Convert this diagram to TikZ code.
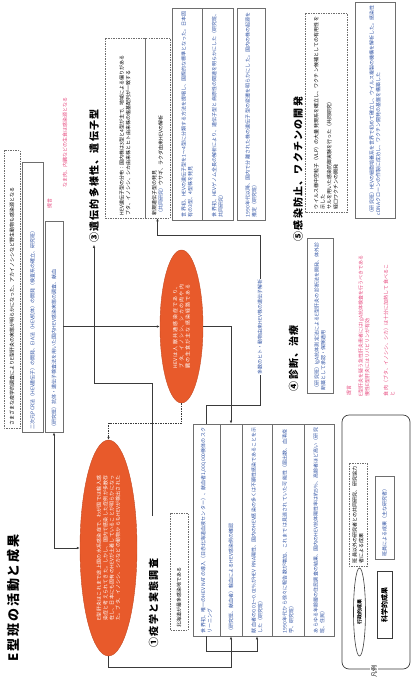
\documentclass[tikz,border=0pt]{standalone}
\usepackage{fontspec}
\setmainfont{Noto Sans CJK JP}
\usetikzlibrary{arrows.meta,shapes.geometric}
\XeTeXlinebreaklocale "ja"
\XeTeXlinebreakskip=0pt plus 1pt
\definecolor{ored}{HTML}{E85A2B}
\definecolor{tblue}{HTML}{2F52A3}
\definecolor{tred}{HTML}{E6497E}
\definecolor{lgray}{HTML}{6E6E6E}
\definecolor{dgray}{HTML}{3A3A3A}
\begin{document}
\begin{tikzpicture}[x=1pt,y=-1pt,
  vt/.style={rotate=90, inner sep=1.5pt, align=left, font=\fontsize{5}{6.5}\selectfont},
  sbox/.style={vt, draw=lgray, line width=0.7pt, text=tblue},
  dbox/.style={vt, draw=lgray, dashed, dash pattern=on 1.5pt off 1pt, line width=0.5pt, text=black},
  head/.style={rotate=90, inner sep=2pt, font=\fontsize{10}{12}\selectfont\bfseries\addfontfeatures{LetterSpace=12}},
  redt/.style={rotate=90, inner sep=1pt, align=left, text=tred, font=\fontsize{5}{6.5}\selectfont},
  oval/.style={ellipse, rotate=90, fill=ored, draw=ored!85!black, text=white, align=center, inner sep=0pt, font=\fontsize{5}{6.3}\selectfont},
  conn/.style={draw=dgray, line width=0.7pt},
  arr/.style={conn, -{Latex[length=3pt,width=2.6pt]}}
]
\useasboundingbox (0,0) rectangle (414,686);

% title
\node[rotate=90, inner sep=0pt, font=\fontsize{13}{15}\selectfont\bfseries\addfontfeatures{LetterSpace=15}] (title) at (14,598) {E型班の活動と成果};

% top-left
\node[dbox, minimum width=278pt, minimum height=16pt, text width=272pt] (tl) at (12,289) {さまざまな疫学的調査によりE型肝炎の実態が明らかになった、アカイノシシなど野生動物も感染源となる};
\node[sbox, minimum width=270pt, minimum height=21pt, text width=264pt] (b1) at (32.5,297) {二次元PCR法（HEV遺伝子）の開発、EIA法（HEV抗体）の開発（検査系の確立、研究班）};
\node[sbox, minimum width=211pt, minimum height=18pt, text width=205pt] (b2) at (54,326.5) {（研究班）抗体・遺伝子検査法を用いた国内HEV感染実態の調査、献血};
\node[redt] (r1) at (49.5,203.5) {提言};
\node[redt, text width=100pt] (r2) at (65,137) {なま肉、内臓などの生食は感染源となる};

% group 3
\node[head] (h3) at (94,176) {③遺伝的多様性、遺伝子型};
\node[dbox, minimum width=180pt, minimum height=40pt, text width=174pt] (d3a) at (125,128) {HEV遺伝子型の分布：国内株は3型と4型が主で、地域による偏りがある\\ブタ、イノシシ、シカ由来株とヒト由来株の塩基配列が一致する};
\node[dbox, minimum width=180pt, minimum height=25pt, text width=174pt] (d3b) at (157.5,128) {新規遺伝子型の発見\\{\color{tblue}（共同研究）}ウサギ、ラクダ由来HEVの解析};
\node[sbox, minimum width=212pt, minimum height=30pt, text width=206pt] (s3c) at (187,114) {世界初、HEVの遺伝子型を1〜4型に分類する方法を提唱し、国際的な標準となった。日本固有の3型、4型株を発見};
\node[sbox, minimum width=212pt, minimum height=31pt, text width=206pt] (s3d) at (217.5,114) {世界初、HEVゲノム全長の解析により、遺伝子型と病原性の関連を明らかにした（研究班、共同研究）};
\node[sbox, minimum width=212pt, minimum height=28pt, text width=206pt] (s3e) at (251,114) {1990年代以降、国内で分離された株の遺伝子型の変遷を明らかにした。国内の株の起源を推定（研究班）};

% group 5
\node[head] (h5) at (298,169) {⑤感染防止、ワクチンの開発};
\node[dbox, minimum width=199pt, minimum height=42pt, text width=193pt] (d5) at (326,112.5) {ウイルス様中空粒子（VLP）の大量発現系を確立し、ワクチン候補としての有用性を示した\\サルを用いた感染防御実験を行った（共同研究）\\経口ワクチンの開発};
\node[sbox, minimum width=216pt, minimum height=40pt, text width=210pt] (s5) at (375,110) {（研究班）HEVの細胞培養系を世界で初めて確立し、ウイルス複製の機構を解析した。感染性cDNAクローンの作製に成功し、ワクチン開発の基盤を構築した};

% group 4
\node[head] (h4) at (293.5,358) {④診断、治療};
\node[sbox, minimum width=155pt, minimum height=26pt, text width=149pt] (s4) at (320,315.5) {（研究班）IgA抗体測定法によるE型肝炎の診断法を開発、体外診断薬として承認・保険適用};
\node[redt] (r3) at (349,390) {提言};
\node[redt, text width=152pt] (r4) at (364,320) {E型肝炎を疑う急性肝炎患者にはIgA抗体検査を行うべきである\\慢性E型肝炎にはリバビリンが有効};
\node[redt, text width=132pt] (r5) at (389,330) {食肉（ブタ、イノシシ、シカ）は十分に加熱して食べること};

% ellipses
\node[oval, minimum width=153pt, minimum height=43pt, text width=108pt] (e2) at (181.5,326.5) {HEVは人獣共通感染症であり、ブタ、イノシシ、シカの肉や内臓の生食が主な感染経路である};
\node[oval, minimum width=216pt, minimum height=57pt, text width=150pt] (e1) at (108.5,548) {E型肝炎はこれまで途上国の水系感染症で、わが国では輸入感染症と考えられてきた。しかし、国内で感染した症例が多数存在し、日本にも固有のHEVが土着していることが明らかになった。ブタ、イノシシ、シカなどの動物からもHEVが検出された};

% label on connector
\node[vt, fill=white, text=tblue, inner sep=1pt] (lb1) at (260,327) {多数のヒト・動物由来HEV株の遺伝子解析};

% group 1
\node[head] (h1) at (153.5,603) {①疫学と実態調査};
\node[dbox, minimum width=117pt, minimum height=18pt, text width=111pt] (d1) at (179,571.5) {北海道が最多感染地である};
\node[sbox, minimum width=212pt, minimum height=27pt, text width=206pt] (bA) at (206.5,530) {世界初、唯一のHEV NATの導入（日赤北海道血液センター）、献血者1,000,000検体のスクリーニング};
\node[sbox, minimum width=212pt, minimum height=22pt, text width=206pt] (bB) at (231,530) {（研究班、献血者）輸血によるHEV感染例の確認};
\node[sbox, minimum width=212pt, minimum height=30pt, text width=206pt] (bC) at (257,530) {献血者の0.01〜0.02\%がHEV RNA陽性、国内のHEV感染の多くは不顕性感染であることを示した（研究班）};
\node[sbox, minimum width=212pt, minimum height=32pt, text width=206pt] (bD) at (288,530) {1990年代から徐々に報告数が増加、これまでは見逃されていた可能性（届出数、血清疫学、研究班）};
\node[sbox, minimum width=212pt, minimum height=30pt, text width=206pt] (bE) at (319,530) {あらゆる年齢層の住民調査の結果、国内のHEV抗体陽性率は約5\%、高齢者ほど高い（研究班、住民）};

% legend
\node[draw=dgray, rounded corners=7pt, line width=0.7pt, minimum width=68pt, minimum height=254pt, inner sep=0pt] (leg) at (376,542) {};
\node[rotate=90, fill=white, inner sep=1pt, font=\fontsize{6}{7}\selectfont] (legl) at (374,671) {凡例};
\node[dbox, minimum width=103pt, minimum height=18pt, text width=97pt] (ld) at (358,514.5) {班員以外の研究者との共同研究、研究協力者による成果};
\node[sbox, minimum width=83pt, minimum height=19pt, text width=77pt] (lbx) at (384.5,517.5) {班員による成果（主な研究者）};
\node[ellipse, rotate=90, draw=dgray, line width=0.6pt, minimum width=88pt, minimum height=12pt, inner sep=0pt, font=\fontsize{5}{6}\selectfont\bfseries] (le) at (359.5,612) {行政的成果};
\node[rotate=90, draw=dgray, line width=0.7pt, minimum width=67pt, minimum height=15pt, inner sep=1pt, font=\fontsize{7}{8}\selectfont\bfseries] (lk) at (384.5,604.5) {科学的成果};

% connectors
\coordinate (c6) at (152.5,516);
\draw[conn] (bA.east) -- (bA.east |- 0,405) -| (lb1.west);
\draw[arr] (lb1.east) -- (lb1.east |- 0,235) -| (d3b.west);
\draw[arr] (e2.south) -| (bB.east);
\draw[arr, dashed, dash pattern=on 1.5pt off 1pt] (e2.west) -- ++(0,20) -| (e1.east);
\draw[arr] (b2.south) -- (b2.south -| e2.north);
\draw[conn, {Latex[length=3pt,width=2.6pt]}-{Latex[length=3pt,width=2.6pt]}] (e1.north) -| (b2.west);
\draw[arr] (c6) -- (c6 |- 0,383) -| (h3.west);
\draw[arr] (e1.west) -- ++(0,11) -| (bB.west);
\draw[arr] (bA.west) -- ++(0,15) -| (bC.west);
\end{tikzpicture}
\end{document}
